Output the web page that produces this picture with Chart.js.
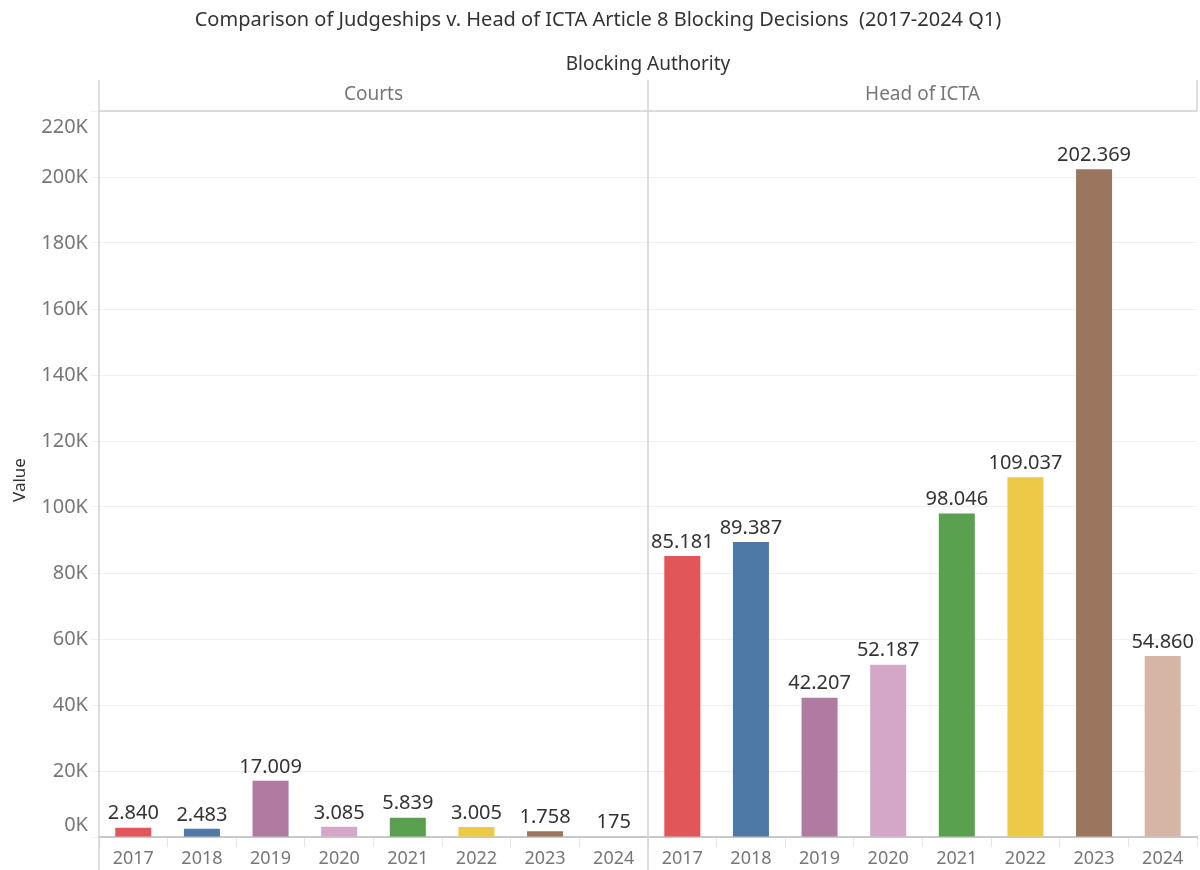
<!DOCTYPE html>
<html>
<head>
<meta charset="utf-8">
<script src="https://cdn.jsdelivr.net/npm/chart.js@4.4.1/dist/chart.umd.min.js"></script>
<style>
  body { margin: 0; background: #fff; }
  #wrap { width: 1200px; height: 870px; }
</style>
</head>
<body>
<div id="wrap"><canvas id="chart" width="1200" height="870"></canvas></div>
<script>
const years = ['2017', '2018', '2019', '2020', '2021', '2022', '2023', '2024'];
const panels = ['Courts', 'Head of ICTA'];
const courtsValues = [2840, 2483, 17009, 3085, 5839, 3005, 1758, 175];
const ictaValues = [85181, 89387, 42207, 52187, 98046, 109037, 202369, 54860];
const yearColors = ['#e15759', '#4e79a7', '#b07aa1', '#d4a6c8', '#59a14f', '#edc948', '#9c755f', '#d7b5a6'];
const yTicks = [0, 20000, 40000, 60000, 80000, 100000, 120000, 140000, 160000, 180000, 200000, 220000];

const FONT = '"Noto Sans", sans-serif';
const LINE = '#d4d4d4';

function fmtThousands(v) {
  return String(v).replace(/\B(?=(\d{3})+(?!\d))/g, '.');
}

// headers, panel borders, y labels, value labels
const facetPlugin = {
  id: 'facet',
  afterDraw(chart) {
    const { ctx, chartArea: area, scales } = chart;
    const x = scales.x, y = scales.y;
    const mid = (x.getPixelForValue(years.length - 1) + x.getPixelForValue(years.length)) / 2;
    ctx.save();

    ctx.fillStyle = '#333';
    ctx.textAlign = 'center';
    ctx.textBaseline = 'middle';
    ctx.font = '20px ' + FONT;
    ctx.fillText('Comparison of Judgeships v. Head of ICTA Article 8 Blocking Decisions  (2017-2024 Q1)', 598, 20);
    ctx.font = '19px ' + FONT;
    ctx.fillText('Blocking Authority', mid, 65);

    ctx.fillStyle = '#777';
    ctx.font = '19px ' + FONT;
    ctx.fillText(panels[0], (area.left + mid) / 2, 95);
    ctx.fillText(panels[1], (mid + area.right) / 2, 95);

    // frame lines
    ctx.strokeStyle = LINE;
    ctx.lineWidth = 1.5;
    ctx.beginPath();
    ctx.moveTo(area.left, 80); ctx.lineTo(area.left, 870);
    ctx.moveTo(mid, 80); ctx.lineTo(mid, 870);
    ctx.moveTo(area.right, 80); ctx.lineTo(area.right, area.top);
    ctx.moveTo(area.left, area.top); ctx.lineTo(area.right, area.top);
    ctx.stroke();

    // y labels, edge ones nudged inside like the original
    ctx.fillStyle = '#777';
    ctx.font = '20px ' + FONT;
    ctx.textAlign = 'right';
    yTicks.forEach(t => {
      let py = y.getPixelForValue(t);
      py = Math.min(Math.max(py, area.top + 16), area.bottom - 12);
      ctx.fillText((t / 1000) + 'K', 88, py);
    });

    ctx.save();
    ctx.translate(20, 480);
    ctx.rotate(-Math.PI / 2);
    ctx.textAlign = 'center';
    ctx.fillStyle = '#333';
    ctx.font = '17px ' + FONT;
    ctx.fillText('Value', 0, 0);
    ctx.restore();

    // value labels above bars
    ctx.fillStyle = '#333';
    ctx.font = '20px ' + FONT;
    ctx.textAlign = 'center';
    ctx.textBaseline = 'bottom';
    const meta = chart.getDatasetMeta(0);
    meta.data.forEach((bar, i) => {
      const v = chart.data.datasets[0].data[i];
      ctx.fillText(fmtThousands(v), bar.x, bar.y - 4);
    });
    ctx.restore();
  }
};

const ctx = document.getElementById('chart').getContext('2d');
const chart = new Chart(ctx, {
  type: 'bar',
  data: {
    labels: years.concat(years),
    datasets: [{
      label: 'Value',
      data: courtsValues.concat(ictaValues),
      backgroundColor: yearColors.concat(yearColors),
      categoryPercentage: 1,
      barPercentage: 0.525
    }]
  },
  options: {
    responsive: false,
    animation: false,
    layout: { padding: { top: 111, right: 3, left: 0, bottom: 0 } },
    plugins: {
      legend: { display: false },
      tooltip: { enabled: false }
    },
    scales: {
      x: {
        afterFit: s => { s.height = 33; },
        grid: { drawOnChartArea: false, color: '#e6e6e6', tickLength: 10 },
        border: { display: true, color: '#c8c8c8', width: 2 },
        ticks: { color: '#777', font: { family: 'Noto Sans', size: 18 }, padding: 1, maxRotation: 0, autoSkip: false }
      },
      y: {
        min: 0,
        max: 220000,
        afterFit: s => { s.width = 99; },
        afterBuildTicks: s => { s.ticks = yTicks.map(v => ({ value: v })); },
        grid: { color: '#f0f0f0', tickLength: 8 },
        border: { display: false },
        ticks: { display: false }
      }
    }
  },
  plugins: [facetPlugin]
});
</script>
</body>
</html>
